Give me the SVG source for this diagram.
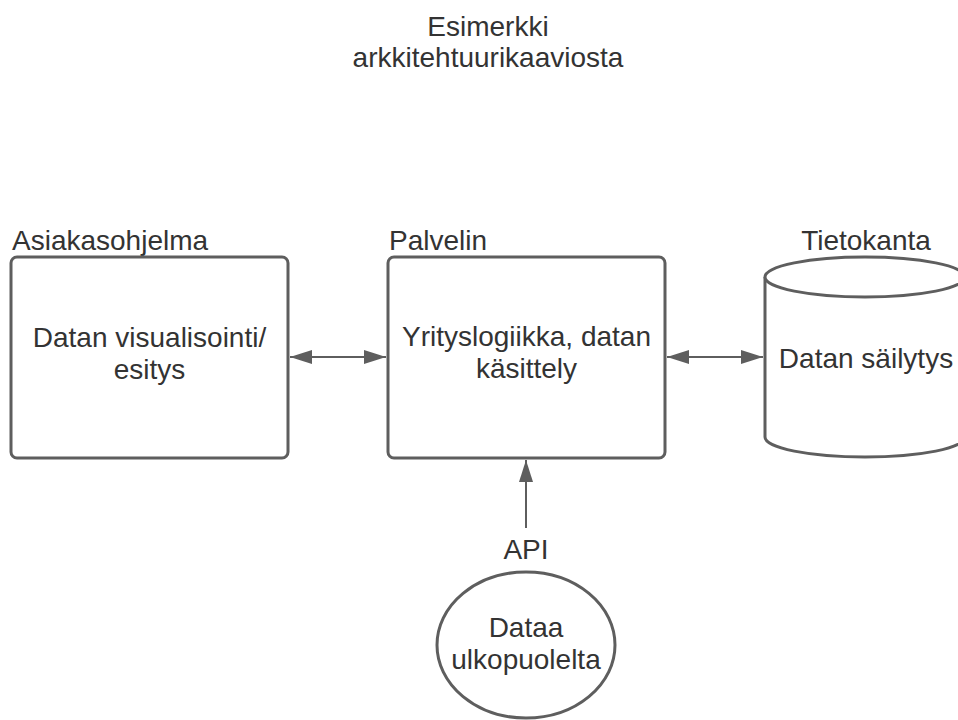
<svg xmlns="http://www.w3.org/2000/svg" width="958" height="720" viewBox="0 0 958 720">
  <style>
    .shape { fill: #ffffff; stroke: #5e5e5e; stroke-width: 3; }
    .edge { fill: none; stroke: #5e5e5e; stroke-width: 2; }
    text { font-family: "Liberation Sans", Arial, sans-serif; font-size: 28px; fill: #333333; }
    .mid { text-anchor: middle; }
  </style>
  <defs>
    <marker id="head" viewBox="0 0 22 14" refX="22" refY="7" markerWidth="22" markerHeight="14" markerUnits="userSpaceOnUse" orient="auto-start-reverse">
      <path d="M0,0 L22,7 L0,14 Z" fill="#5e5e5e"/>
    </marker>
  </defs>
  <rect width="958" height="720" fill="#ffffff"/>

  <g id="title">
    <text class="mid" x="488" y="36">Esimerkki</text>
    <text class="mid" x="488" y="67">arkkitehtuurikaaviosta</text>
  </g>

  <g id="connectors">
    <line class="edge" x1="290" y1="357" x2="386" y2="357" marker-start="url(#head)" marker-end="url(#head)"/>
    <line class="edge" x1="667" y1="357" x2="763" y2="357" marker-start="url(#head)" marker-end="url(#head)"/>
    <line class="edge" x1="526" y1="528" x2="526" y2="460" marker-end="url(#head)"/>
  </g>

  <g id="client">
    <text x="12" y="250">Asiakasohjelma</text>
    <rect class="shape" x="11" y="257" width="277" height="201" rx="6"/>
    <text class="mid" x="149.5" y="347">Datan visualisointi/</text>
    <text class="mid" x="149.5" y="379">esitys</text>
  </g>

  <g id="server">
    <text x="389" y="250">Palvelin</text>
    <rect class="shape" x="388" y="257" width="277" height="201" rx="6"/>
    <text class="mid" x="526.5" y="346">Yrityslogiikka, datan</text>
    <text class="mid" x="526.5" y="378">käsittely</text>
  </g>

  <g id="database">
    <text class="mid" x="866" y="250">Tietokanta</text>
    <path class="shape" d="M765,277 L765,437 A100,20 0 0 0 965,437 L965,277"/>
    <ellipse class="shape" cx="865" cy="277" rx="100" ry="20"/>
    <text class="mid" x="866" y="368">Datan säilytys</text>
  </g>

  <g id="api">
    <text class="mid" x="526" y="559">API</text>
  </g>

  <g id="external">
    <ellipse class="shape" cx="526" cy="645" rx="89" ry="73"/>
    <text class="mid" x="526" y="637">Dataa</text>
    <text class="mid" x="526" y="669">ulkopuolelta</text>
  </g>
</svg>
